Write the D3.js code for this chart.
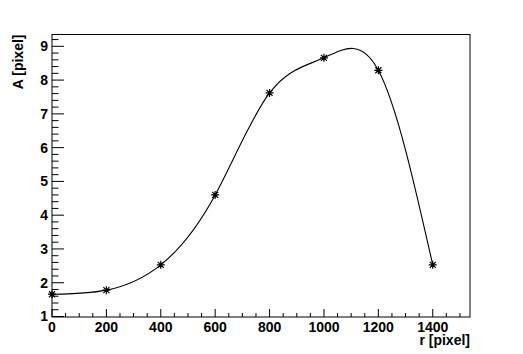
<!DOCTYPE html>
<html>
<head>
<meta charset="utf-8">
<script src="https://cdn.jsdelivr.net/npm/d3@7"></script>
<style>
  body { margin: 0; background: #fff; }
  text { font-family: "Liberation Sans", Arial, sans-serif; font-weight: bold; }
</style>
</head>
<body>
<script>
// measured points
const rValues = [0, 200, 400, 600, 800, 1000, 1200, 1400];
const aValues = [1.66, 1.78, 2.53, 4.6, 7.62, 8.66, 8.29, 2.53];
const xTicks = [0, 200, 400, 600, 800, 1000, 1200, 1400];
const yTicks = [1, 2, 3, 4, 5, 6, 7, 8, 9];

const width = 523;
const height = 354;
const margin = { top: 34.5, right: 53, bottom: 37, left: 52 };

const svg = d3.select("body")
  .append("svg")
  .attr("width", width)
  .attr("height", height);

const xScale = d3.scaleLinear()
  .domain([0, 1537])
  .range([margin.left, width - margin.right]);

const yScale = d3.scaleLinear()
  .domain([0.985, 9.35])
  .range([height - margin.bottom, margin.top]);

const x0 = margin.left, x1 = width - margin.right;
const y0 = height - margin.bottom, y1 = margin.top;

// frame
svg.append("rect")
  .attr("x", x0).attr("y", y1)
  .attr("width", x1 - x0).attr("height", y0 - y1)
  .attr("fill", "none")
  .attr("stroke", "#000")
  .attr("stroke-width", 1);

// x ticks (inside frame)
const xMinor = d3.range(0, 1537, 50);
svg.append("g").selectAll("line")
  .data(xMinor)
  .enter()
  .append("line")
  .attr("x1", d => xScale(d)).attr("x2", d => xScale(d))
  .attr("y1", y0)
  .attr("y2", d => y0 - (d % 200 === 0 ? 8 : 4))
  .attr("stroke", "#000");

svg.append("g").selectAll("text")
  .data(xTicks)
  .enter()
  .append("text")
  .attr("x", d => xScale(d))
  .attr("y", y0 + 15)
  .attr("text-anchor", "middle")
  .style("font-size", "14px")
  .text(d => d);

// y ticks (inside frame)
const yMinor = d3.range(1, 9.35, 0.2);
svg.append("g").selectAll("line")
  .data(yMinor)
  .enter()
  .append("line")
  .attr("x1", x0)
  .attr("x2", (d, i) => x0 + (i % 5 === 0 ? 12 : 6.5))
  .attr("y1", d => yScale(d)).attr("y2", d => yScale(d))
  .attr("stroke", "#000");

svg.append("g").selectAll("text")
  .data(yTicks)
  .enter()
  .append("text")
  .attr("x", x0 - 4)
  .attr("y", d => yScale(d) + 5)
  .attr("text-anchor", "end")
  .style("font-size", "14px")
  .text(d => d);

// smooth curve through the points
const pts = rValues.map((r, i) => [r, aValues[i]]);
const line = d3.line()
  .x(d => xScale(d[0]))
  .y(d => yScale(d[1]))
  .curve(d3.curveNatural);

svg.append("path")
  .datum(pts)
  .attr("d", line)
  .attr("fill", "none")
  .attr("stroke", "#000")
  .attr("stroke-width", 1.1);

// star markers
const s = 4;
svg.append("g").selectAll("path")
  .data(pts)
  .enter()
  .append("path")
  .attr("transform", d => `translate(${xScale(d[0])},${yScale(d[1])})`)
  .attr("d", `M${-s},0L${s},0M0,${-s}L0,${s}M${-s*0.75},${-s*0.75}L${s*0.75},${s*0.75}M${-s*0.75},${s*0.75}L${s*0.75},${-s*0.75}`)
  .attr("stroke", "#000")
  .attr("stroke-width", 1.2);

// axis titles
svg.append("text")
  .attr("x", x1)
  .attr("y", 345)
  .attr("text-anchor", "end")
  .style("font-size", "14px")
  .text("r [pixel]");

svg.append("text")
  .attr("transform", `translate(23,${y1}) rotate(-90)`)
  .attr("text-anchor", "end")
  .style("font-size", "14px")
  .text("A [pixel]");
</script>
</body>
</html>
